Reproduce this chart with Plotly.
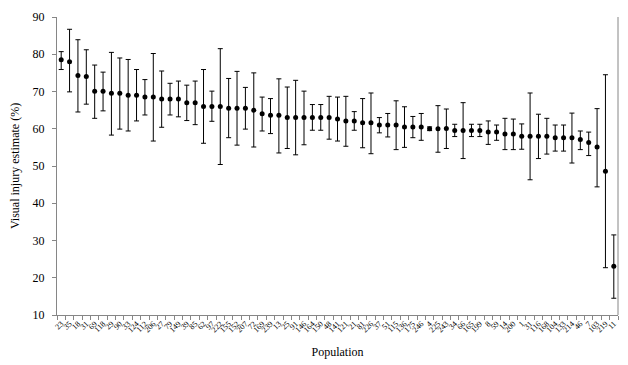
import plotly.graph_objects as go

populations = ["23","35","18","31","69","118","29","90","33","124","112","206","27","79","149","39","85",
               "62","97","222","155","152","207","72","169","239","13","25","91","146","164","150","48",
               "141","121","21","81","226","37","51","115","136","175","246","4","225","243","34","66",
               "165","199","8","59","14","200","1","31","116","168","104","133","214","46","7","103","219","11"]

mean = [78.5, 78.0, 74.3, 74.0, 70.1, 70.1, 69.5, 69.5, 69.0, 69.0, 68.5, 68.5, 68.0, 68.0, 68.0,
        67.0, 67.0, 66.0, 66.0, 66.0, 65.5, 65.5, 65.5, 65.0, 64.0, 63.6, 63.6, 63.0, 63.0, 63.0,
        63.0, 63.0, 63.0, 62.6, 62.1, 62.1, 61.6, 61.6, 61.0, 61.0, 61.0, 60.5, 60.5, 60.5, 60.0,
        60.0, 60.1, 59.5, 59.5, 59.5, 59.5, 59.1, 59.1, 58.6, 58.6, 58.0, 58.0, 58.0, 58.0, 57.6,
        57.6, 57.6, 57.1, 56.3, 55.1, 48.6, 23.1]

upper = [80.7, 86.7, 83.9, 81.2, 77.1, 75.2, 80.5, 79.0, 78.6, 75.9, 73.2, 80.2, 75.5, 72.2, 72.8,
         71.7, 72.8, 75.9, 70.1, 81.5, 73.5, 75.4, 71.1, 75.0, 68.5, 68.1, 73.4, 71.2, 73.0, 70.1,
         66.5, 66.5, 68.7, 68.5, 68.7, 64.6, 68.1, 69.6, 63.0, 64.1, 67.5, 65.9, 63.3, 64.1, 60.5,
         66.2, 65.3, 61.2, 67.0, 61.2, 61.2, 62.1, 61.0, 62.8, 62.6, 61.3, 69.6, 63.9, 62.8, 61.0,
         61.0, 64.2, 59.4, 59.1, 65.4, 74.5, 31.5]

lower = [75.9, 69.9, 64.5, 66.6, 62.8, 64.8, 58.3, 59.9, 59.4, 62.1, 63.7, 56.7, 60.4, 63.7, 63.2,
         62.2, 61.1, 56.1, 62.0, 50.4, 57.6, 55.6, 59.9, 55.1, 59.4, 58.7, 53.5, 54.7, 53.0, 55.7,
         59.6, 59.6, 57.2, 56.7, 55.3, 59.6, 54.9, 53.3, 58.9, 57.8, 54.4, 55.0, 57.6, 56.9, 59.5,
         53.7, 54.7, 57.9, 52.0, 57.9, 57.9, 55.8, 56.9, 54.4, 54.4, 54.5, 46.3, 52.0, 53.2, 54.0,
         54.0, 50.8, 54.4, 52.8, 44.4, 22.7, 14.5]

y_ticks = [10, 20, 30, 40, 50, 60, 70, 80, 90]

x = list(range(len(populations)))
err_plus = [u - m for u, m in zip(upper, mean)]
err_minus = [m - l for m, l in zip(mean, lower)]

serif = "Liberation Serif, Times New Roman, serif"

fig = go.Figure()
fig.add_trace(go.Scatter(
    x=x, y=mean, mode="markers",
    marker=dict(color="black", size=5),
    error_y=dict(type="data", symmetric=False, array=err_plus, arrayminus=err_minus,
                 color="black", thickness=1, width=2.5),
    showlegend=False,
))

fig.update_layout(
    width=620, height=357,
    margin=dict(l=49, r=10, t=9, b=50, autoexpand=False),
    paper_bgcolor="white", plot_bgcolor="white",
    font=dict(family=serif, color="black"),
    xaxis=dict(
        range=[-0.5, len(populations) - 0.5],
        tickmode="array", tickvals=x, ticktext=populations,
        tickangle=-45, tickfont=dict(size=8, family=serif),
        ticks="", ticklen=0, automargin=False,
        minor=dict(tick0=0.5, dtick=1, ticks="outside", ticklen=4, tickcolor="#868686"),
        showline=True, linecolor="#868686", linewidth=1,
        showgrid=False, zeroline=False,
        title=dict(text="Population", font=dict(size=12, family=serif), standoff=14),
    ),
    yaxis=dict(
        range=[10, 90], tickmode="array", tickvals=y_ticks,
        ticks="outside", ticklen=4, tickcolor="#868686", ticklabelstandoff=5,
        tickfont=dict(size=12, family=serif), automargin=False,
        showline=True, linecolor="#868686", linewidth=1,
        showgrid=False, zeroline=False,
        title=dict(text="Visual injury estimate (%)", font=dict(size=12, family=serif), standoff=12),
    ),
    shapes=[dict(type="line", xref="paper", yref="paper", x0=1, x1=1, y0=0, y1=1,
                 line=dict(color="#868686", width=1))],
)

fig.write_html("out.html")
